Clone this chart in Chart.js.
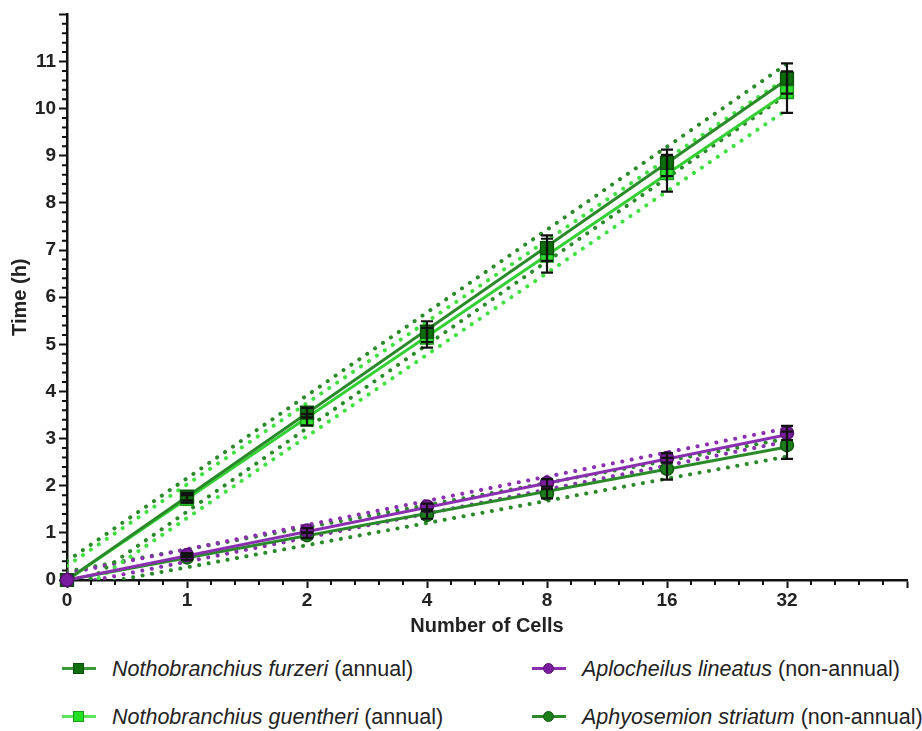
<!DOCTYPE html>
<html>
<head>
<meta charset="utf-8">
<script src="https://cdn.jsdelivr.net/npm/chart.js@4.4.1/dist/chart.umd.min.js"></script>
<style>
  body { margin: 0; background: #fff; font-family: "Liberation Sans", Arial, sans-serif; }
  #wrap { position: relative; width: 922px; height: 731px; }
  #chart { position: absolute; left: 0; top: 0; }
  .item { position: absolute; height: 24px; font-size: 21.5px; color: #222; line-height: 24px; white-space: nowrap; }
  .item .key { position: absolute; left: 0; top: 10px; width: 34px; height: 3px; }
  .item .mk { position: absolute; left: 11px; top: -4px; width: 11px; height: 11px; box-sizing: border-box; }
  .item .mk.circle { border-radius: 50%; }
  .item .txt { position: absolute; left: 50px; top: 0; }
</style>
</head>
<body>
<div id="wrap">
  <canvas id="chart" width="922" height="638"></canvas>
  <div id="legend"></div>
</div>
<script>
// x positions (equally spaced categories) and their labels
var xPos = [0, 1, 2, 3, 4, 5, 6];
var xLabels = ['0', '1', '2', '4', '8', '16', '32'];

// mean times (h)
var furzeri = [0, 1.77, 3.55, 5.27, 7.04, 8.85, 10.64];
var guentheri = [0, 1.72, 3.4, 5.14, 6.88, 8.63, 10.35];
var lineatus = [0, 0.53, 1.05, 1.56, 2.06, 2.59, 3.12];
var striatum = [0, 0.48, 0.95, 1.38, 1.83, 2.36, 2.86];

// error bars (h)
var furzeriErr = [0, 0.08, 0.1, 0.22, 0.27, 0.28, 0.32];
var guentheriErr = [0, 0.08, 0.12, 0.21, 0.36, 0.39, 0.44];
var lineatusErr = [0, 0.04, 0.05, 0.06, 0.08, 0.1, 0.15];
var striatumErr = [0, 0.05, 0.06, 0.08, 0.1, 0.23, 0.29];

// regression lines and 95% bands, at x = 0 and x = 6
var fitX = [0, 6];
var furzeriFit = [0, 10.62], furzeriHi = [0.4, 10.95], furzeriLo = [-0.32, 10.3];
var guentheriFit = [0, 10.34], guentheriHi = [0.3, 10.66], guentheriLo = [-0.42, 9.98];
var lineatusFit = [0, 3.08], lineatusHi = [0.14, 3.22], lineatusLo = [-0.12, 2.94];
var striatumFit = [0, 2.82], striatumHi = [0.18, 3.0], striatumLo = [-0.2, 2.62];

function pts(xs, ys) {
    return xs.map(function (x, i) { return { x: x, y: ys[i] }; });
}

var font = '"Liberation Sans", Arial, sans-serif';

function markers(label, data, err, style, fill, border, r, order) {
    return {
        label: label, data: pts(xPos, data), errors: err,
        showLine: false, pointStyle: style, pointRadius: r,
        pointBackgroundColor: fill, pointBorderColor: border, pointBorderWidth: 1.5,
        clip: false, order: order
    };
}
function fit(data, color) {
    return {
        data: pts(fitX, data), showLine: true, borderColor: color, borderWidth: 3,
        pointRadius: 0, tension: 0, order: 1
    };
}
function band(data, color) {
    return {
        data: pts(fitX, data), showLine: true, borderColor: color, borderWidth: 4,
        borderDash: [0.1, 9.5], borderCapStyle: 'round',
        pointRadius: 0, tension: 0, order: 2
    };
}

// error bars and minor ticks
var extras = {
    id: 'extras',
    afterDatasetsDraw: function (chart) {
        var ctx = chart.ctx, y = chart.scales.y;
        ctx.save();
        ctx.strokeStyle = '#111';
        ctx.lineWidth = 2.2;
        chart.data.datasets.forEach(function (ds, i) {
            if (!ds.errors) return;
            chart.getDatasetMeta(i).data.forEach(function (pt, j) {
                var e = ds.errors[j];
                if (!e) return;
                var v = ds.data[j].y;
                var top = y.getPixelForValue(v + e), bot = y.getPixelForValue(v - e);
                ctx.beginPath();
                ctx.moveTo(pt.x, top); ctx.lineTo(pt.x, bot);
                ctx.moveTo(pt.x - 6, top); ctx.lineTo(pt.x + 6, top);
                ctx.moveTo(pt.x - 6, bot); ctx.lineTo(pt.x + 6, bot);
                ctx.stroke();
            });
        });
        ctx.restore();
    },
    afterDraw: function (chart) {
        var ctx = chart.ctx, xs = chart.scales.x, ys = chart.scales.y;
        ctx.save();
        ctx.strokeStyle = '#111';
        ctx.lineWidth = 2;
        ctx.beginPath();
        for (var k = 1; k < xs.max * 5; k++) {
            if (k % 5 === 0) continue;
            var px = xs.getPixelForValue(k / 5);
            ctx.moveTo(px, xs.top); ctx.lineTo(px, xs.top + 5);
        }
        for (var m = 1; m < ys.max * 5; m++) {
            if (m % 5 === 0) continue;
            var py = ys.getPixelForValue(m / 5);
            ctx.moveTo(ys.right, py); ctx.lineTo(ys.right - 5, py);
        }
        ctx.stroke();
        ctx.restore();
    }
};

var cFurzeri = '#0d6e0d', cGuentheri = '#2fe02f', cLineatus = '#7a1c9e', cStriatum = '#1c7f1c';

new Chart(document.getElementById('chart'), {
    type: 'scatter',
    data: {
        datasets: [
            markers('furzeri', furzeri, furzeriErr, 'rect', cFurzeri, '#0a4f0a', 9, 0),
            markers('guentheri', guentheri, guentheriErr, 'rect', cGuentheri, '#1a9a1a', 9, 0),
            markers('lineatus', lineatus, lineatusErr, 'circle', cLineatus, '#5a1075', 6.5, -1),
            markers('striatum', striatum, striatumErr, 'circle', cStriatum, '#0f5a0f', 6.5, 0),
            fit(furzeriFit, '#2a8a2a'),
            fit(guentheriFit, '#33d033'),
            fit(lineatusFit, '#8a2fb0'),
            fit(striatumFit, '#2a8a2a'),
            band(furzeriHi, '#2a8a2a'), band(furzeriLo, '#2a8a2a'),
            band(guentheriHi, '#3fe03f'), band(guentheriLo, '#3fe03f'),
            band(lineatusHi, '#8a2fb0'), band(lineatusLo, '#8a2fb0'),
            band(striatumHi, '#2a8a2a'), band(striatumLo, '#2a8a2a')
        ]
    },
    options: {
        responsive: false,
        animation: false,
        layout: { padding: { top: 13, right: 15, left: 0, bottom: 0 } },
        plugins: { legend: { display: false }, tooltip: { enabled: false } },
        scales: {
            x: {
                type: 'linear', min: 0, max: 7,
                afterFit: function (s) { s.height = 58; },
                ticks: {
                    stepSize: 1, color: '#222', padding: 1,
                    font: { family: font, size: 19, weight: 'bold' },
                    callback: function (v) { return xLabels[v] || ''; }
                },
                grid: { drawOnChartArea: false, tickLength: 8, tickColor: '#111', tickWidth: 2 },
                border: { color: '#111', width: 2.5 },
                title: {
                    display: true, text: 'Number of Cells', color: '#222',
                    font: { family: font, size: 20, weight: 'bold' }, padding: { top: 0, bottom: 0 }
                }
            },
            y: {
                min: 0, max: 12,
                afterFit: function (s) { s.width = 67; },
                ticks: {
                    stepSize: 1, color: '#222', padding: 3,
                    font: { family: font, size: 19, weight: 'bold' },
                    callback: function (v) { return v === 12 ? '' : v; }
                },
                grid: { drawOnChartArea: false, tickLength: 8, tickColor: '#111', tickWidth: 2 },
                border: { color: '#111', width: 2.5 },
                title: {
                    display: true, text: 'Time (h)', color: '#222',
                    font: { family: font, size: 20, weight: 'bold' }, padding: { top: 8, bottom: 0 }
                }
            }
        }
    },
    plugins: [extras]
});

// legend below the chart
var legendItems = [
    { name: 'Nothobranchius furzeri', note: ' (annual)', left: 62, top: 657, line: '#3a9a3a', fill: cFurzeri, border: '#0a4f0a', shape: 'square' },
    { name: 'Aplocheilus lineatus', note: ' (non-annual)', left: 532, top: 657, line: '#8a2fb0', fill: cLineatus, border: '#5a1075', shape: 'circle' },
    { name: 'Nothobranchius guentheri', note: ' (annual)', left: 62, top: 705, line: '#5ce65c', fill: '#22e022', border: '#1a9a1a', shape: 'square' },
    { name: 'Aphyosemion striatum', note: ' (non-annual)', left: 532, top: 705, line: '#2a8a2a', fill: cStriatum, border: '#0f5a0f', shape: 'circle' }
];
var leg = document.getElementById('legend');
legendItems.forEach(function (it) {
    var d = document.createElement('div');
    d.className = 'item';
    d.style.left = it.left + 'px';
    d.style.top = it.top + 'px';
    d.innerHTML = '<span class="key" style="background:' + it.line + '">' +
        '<span class="mk ' + it.shape + '" style="background:' + it.fill + ';border:1.5px solid ' + it.border + '"></span></span>' +
        '<span class="txt"><i>' + it.name + '</i>' + it.note + '</span>';
    leg.appendChild(d);
});
</script>
</body>
</html>
